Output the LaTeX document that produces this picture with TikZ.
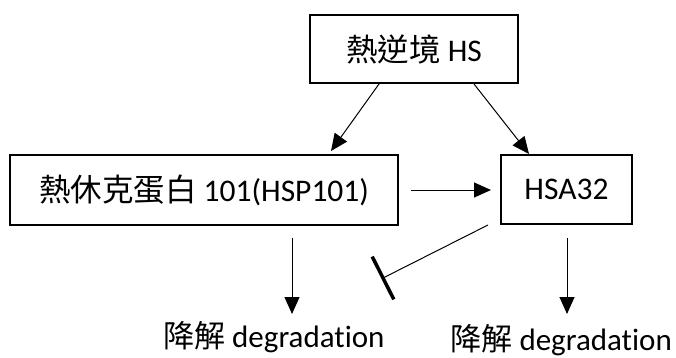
\documentclass[tikz,border=0pt]{standalone}
\usepackage{fontspec}
\setmainfont{Carlito}[Ligatures=NoCommon]
\newfontfamily\cjk{Noto Sans CJK TC}
\usetikzlibrary{arrows.meta,calc}

\tikzset{
  box/.style={draw, line width=1.3pt, inner sep=0pt, font=\fontsize{31.5}{36}\selectfont},
  label/.style={inner sep=0pt, font=\fontsize{31}{36}\selectfont},
  promote/.style={line width=1pt, -{Triangle[length=17pt,width=15pt]}},
  inhibit/.style={line width=1pt}
}

\begin{document}
\begin{tikzpicture}[x=1pt, y=-1pt]
  \useasboundingbox (0,0) rectangle (676,358);

  % stress signal and the two responding factors
  \node[box, minimum width=208pt, minimum height=68pt] (hs) at (414,49) {{\cjk 熱逆境} HS};
  \node[box, minimum width=388pt, minimum height=70pt] (hsp) at (204,190) {{\cjk 熱休克蛋白} 101(HSP101)};
  \node[box, minimum width=131pt, minimum height=69pt] (hsa) at (566.5,189.5) {HSA32};

  % degradation outcomes
  \node[label, anchor=west] (deg1) at (163,337) {{\cjk 降解} degradation};
  \node[label, anchor=east] (deg2) at (672,340) {{\cjk 降解} degradation};

  % free ends of the connectors
  \coordinate (hsL) at (379,84);
  \coordinate (hsR) at (474,84);
  \coordinate (hspTip) at (331,151);
  \coordinate (hsaTip) at (529,154);
  \coordinate (hspOut) at (411,190);
  \coordinate (hsaIn) at (491,190);
  \coordinate (hspDown) at (292,238);
  \coordinate (deg1Tip) at (292,314);
  \coordinate (hsaDown) at (567,238);
  \coordinate (deg2Tip) at (567,314);
  \coordinate (hsaOut) at (488,225);
  \coordinate (block) at (383,278);

  \draw[promote] (hsL) -- (hspTip);
  \draw[promote] (hsR) -- (hsaTip);
  \draw[promote] (hspOut) -- (hsaIn);
  \draw[promote] (hspDown) -- (deg1Tip);
  \draw[promote] (hsaDown) -- (deg2Tip);

  % HSA32 blocks HSP101 degradation
  \draw[inhibit] (hsaOut) -- (block);
  \draw[line width=3.5pt] ($(block)!24pt!90:(hsaOut)$) -- ($(block)!-24pt!90:(hsaOut)$);
\end{tikzpicture}
\end{document}
